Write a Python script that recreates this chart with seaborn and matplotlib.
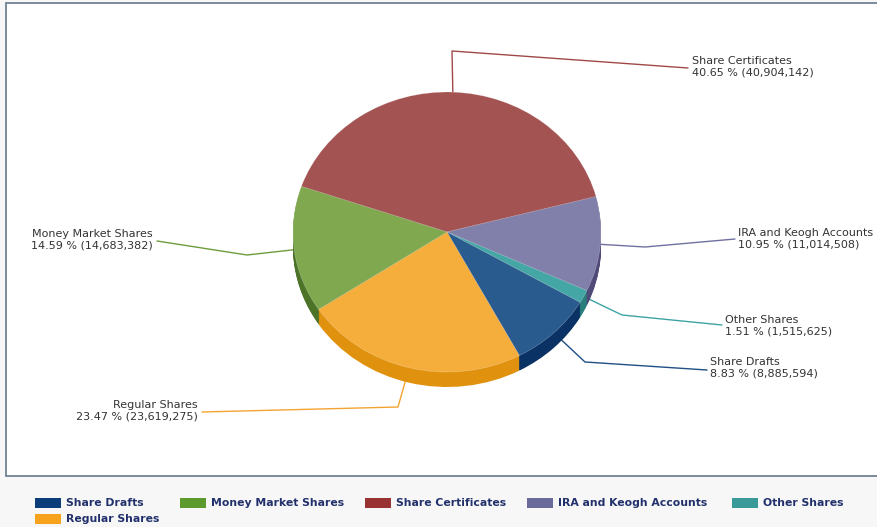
import numpy as np
import matplotlib
matplotlib.use("Agg")
import matplotlib.pyplot as plt
from matplotlib.patches import Rectangle
import seaborn as sns

# Deposit mix data
categories = ["Share Drafts", "Money Market Shares", "Share Certificates",
              "IRA and Keogh Accounts", "Other Shares", "Regular Shares"]
amounts = [8885594, 14683382, 40904142, 11014508, 1515625, 23619275]

# Colours per category (top face, side wall, legend swatch, leader line)
face_colors = ["#2a5b8f", "#7fa84f", "#a45353", "#8080ab", "#45a6a6", "#f5ad3c"]
side_colors = ["#0b3264", "#4d7328", "#7a3030", "#4f4a78", "#2a7d7d", "#e0920f"]
legend_colors = ["#0a3d7a", "#5c9a2e", "#993333", "#6b6b9b", "#3a9a9a", "#f7a21c"]
line_colors = ["#1f4f85", "#6e9c3e", "#a04848", "#7070a0", "#3ea3a3", "#f3a430"]

# Clockwise wedge order around the pie
pie_order = [2, 3, 4, 0, 5, 1]
start_angle = 161

sns.set_theme(style="white")
plt.rcParams["font.family"] = ["DejaVu Sans"]

W, H = 878, 527
fig = plt.figure(figsize=(W / 100, H / 100), dpi=100)
fig.patch.set_facecolor("#f7f7f7")

# Background overlay in pixel coordinates (origin top-left)
ov = fig.add_axes([0, 0, 1, 1])
ov.set_xlim(0, W)
ov.set_ylim(H, 0)
ov.axis("off")
ov.set_zorder(0)
ov.add_patch(Rectangle((6, 3), 890, 473, facecolor="white",
                       edgecolor="#66788a", linewidth=1.2, zorder=0))

# Pie geometry (pixels)
cx, cy, rx, ry, depth = 447, 232, 154, 140, 15
ax = fig.add_axes([(cx - rx) / W, (H - (cy + ry + depth)) / H,
                   2 * rx / W, (2 * ry + depth) / H])
ax.set_zorder(1)
ax.patch.set_alpha(0)

vals = [amounts[i] for i in pie_order]
tops = [face_colors[i] for i in pie_order]
sides = [side_colors[i] for i in pie_order]

# Side wall: stacked copies of the pie below the top face
n_layers = 16
for k in range(n_layers, 0, -1):
    off = -k * (depth / ry) / n_layers
    ax.pie(vals, colors=sides, startangle=start_angle, counterclock=False,
           center=(0, off), radius=1, wedgeprops=dict(linewidth=0))
# Top face
ax.pie(vals, colors=tops, startangle=start_angle, counterclock=False,
       center=(0, 0), radius=1,
       wedgeprops=dict(linewidth=0.4, edgecolor=(1, 1, 1, 0.35)))
ax.set_aspect("auto")
ax.set_xlim(-1, 1)
ax.set_ylim(-1 - depth / ry, 1)
ax.axis("off")

# Leader lines and labels
layout = {
    "Share Certificates": dict(elbow=(452, 51), end=(688, 68), text=(692, 66.5), ha="left"),
    "IRA and Keogh Accounts": dict(elbow=(645, 247), end=(735, 239), text=(738, 238.5), ha="left"),
    "Other Shares": dict(elbow=(622, 315), end=(722, 325), text=(725, 325.5), ha="left"),
    "Share Drafts": dict(elbow=(585, 362), end=(707, 370), text=(710, 368), ha="left"),
    "Regular Shares": dict(elbow=(398, 407), end=(202, 412), text=(198, 411), ha="right"),
    "Money Market Shares": dict(elbow=(247, 255), end=(157, 241), text=(153, 239.5), ha="right"),
}

total = float(sum(amounts))
cum = 0.0
to_pix = ax.transData + ov.transData.inverted()
for i in pie_order:
    frac = amounts[i] / total
    mid = np.deg2rad(start_angle - (cum + frac / 2) * 360)
    cum += frac
    anchor = to_pix.transform((np.cos(mid), np.sin(mid)))
    lay = layout[categories[i]]
    xs = [anchor[0], lay["elbow"][0], lay["end"][0]]
    ys = [anchor[1], lay["elbow"][1], lay["end"][1]]
    ov.plot(xs, ys, color=line_colors[i], linewidth=1.0, zorder=2)
    label = f"{categories[i]}\n{frac * 100:.2f} % ({amounts[i]:,})"
    ov.text(lay["text"][0], lay["text"][1], label, ha=lay["ha"], va="center",
            multialignment=lay["ha"], fontsize=8.0, color="#333333",
            linespacing=1.17, zorder=3)

# Legend along the bottom
legend_slots = [(35, 502.5), (180, 502.5), (365, 502.5), (527, 502.5),
                (732, 502.5), (35, 518.5)]
for (lx, ly), name, col in zip(legend_slots, categories, legend_colors):
    ov.add_patch(Rectangle((lx, ly - 5), 26, 10, facecolor=col,
                           edgecolor="none", zorder=3))
    ov.text(lx + 31, ly, name, ha="left", va="center", fontsize=7.8,
            fontweight="bold", color="#22316c", zorder=3)

fig.savefig("out.png", dpi=100, facecolor=fig.get_facecolor())
